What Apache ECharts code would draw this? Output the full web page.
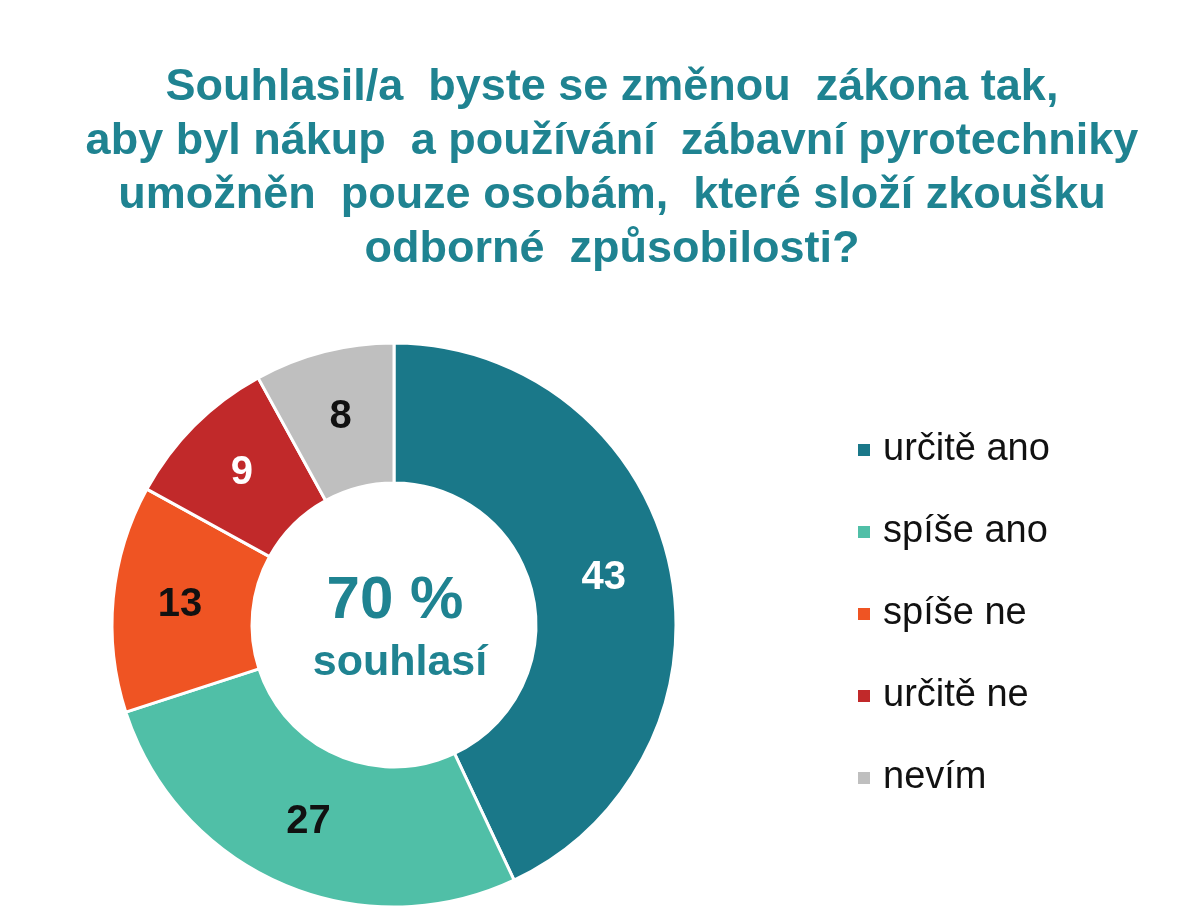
<!DOCTYPE html>
<html><head><meta charset="utf-8">
<script src="https://cdn.jsdelivr.net/npm/echarts@6/dist/echarts.min.js"></script>
<style>html,body{margin:0;padding:0;background:#fff}#c{width:1200px;height:921px}</style>
</head><body><div id="c"></div>
<script>
const categories = ['určitě ano', 'spíše ano', 'spíše ne', 'určitě ne', 'nevím'];
const values = [43, 27, 13, 9, 8];
const colors = ['#1a7889', '#50bfa7', '#ef5423', '#c1292a', '#bfbfbf'];
const labelColors = ['#ffffff', '#111111', '#111111', '#ffffff', '#111111'];
const titleLines = [
  'Souhlasil/a  byste se změnou  zákona tak,',
  'aby byl nákup  a používání  zábavní pyrotechniky',
  'umožněn  pouze osobám,  které složí zkoušku',
  'odborné  způsobilosti?'
];
const centerMain = '70 %';
const centerSub = 'souhlasí';

const chart = echarts.init(document.getElementById('c'));
chart.setOption({
  animation: false,
  title: {
    text: titleLines.join('\n'),
    left: 607, top: 56, textAlign: 'center',
    textStyle: { color: '#1f8391', fontFamily: 'Liberation Sans, Arial', fontWeight: 'bold', fontSize: 45, lineHeight: 54 }
  },
  legend: {
    orient: 'vertical', left: 851, top: 425,
    itemWidth: 14, itemHeight: 14, itemGap: 42,
    icon: 'rect',
    textStyle: { fontSize: 38, lineHeight: 40, color: '#111', fontFamily: 'Liberation Sans, Arial', padding: [0,0,0,7] },
    data: categories
  },
  graphic: [
    { type: 'text', style: { text: centerMain, x: 395, y: 601, align: 'center', verticalAlign: 'middle', fill: '#1f8391', font: 'bold 60px "Liberation Sans", Arial' } },
    { type: 'text', style: { text: centerSub, x: 400, y: 663, align: 'center', verticalAlign: 'middle', fill: '#1f8391', font: 'bold 43px "Liberation Sans", Arial' } }
  ],
  series: [{
    type: 'pie',
    center: [394, 625],
    radius: [142, 282],
    startAngle: 90,
    clockwise: true,
    itemStyle: { borderColor: '#fff', borderWidth: 3 },
    label: { show: true, position: 'inside', formatter: '{c}', fontSize: 40, fontWeight: 'bold', fontFamily: 'Liberation Sans, Arial' },
    labelLine: { show: false },
    emphasis: { disabled: true },
    data: categories.map((n, i) => ({ name: n, value: values[i], itemStyle: { color: colors[i] }, label: { color: labelColors[i] } }))
  }]
});
</script></body></html>
